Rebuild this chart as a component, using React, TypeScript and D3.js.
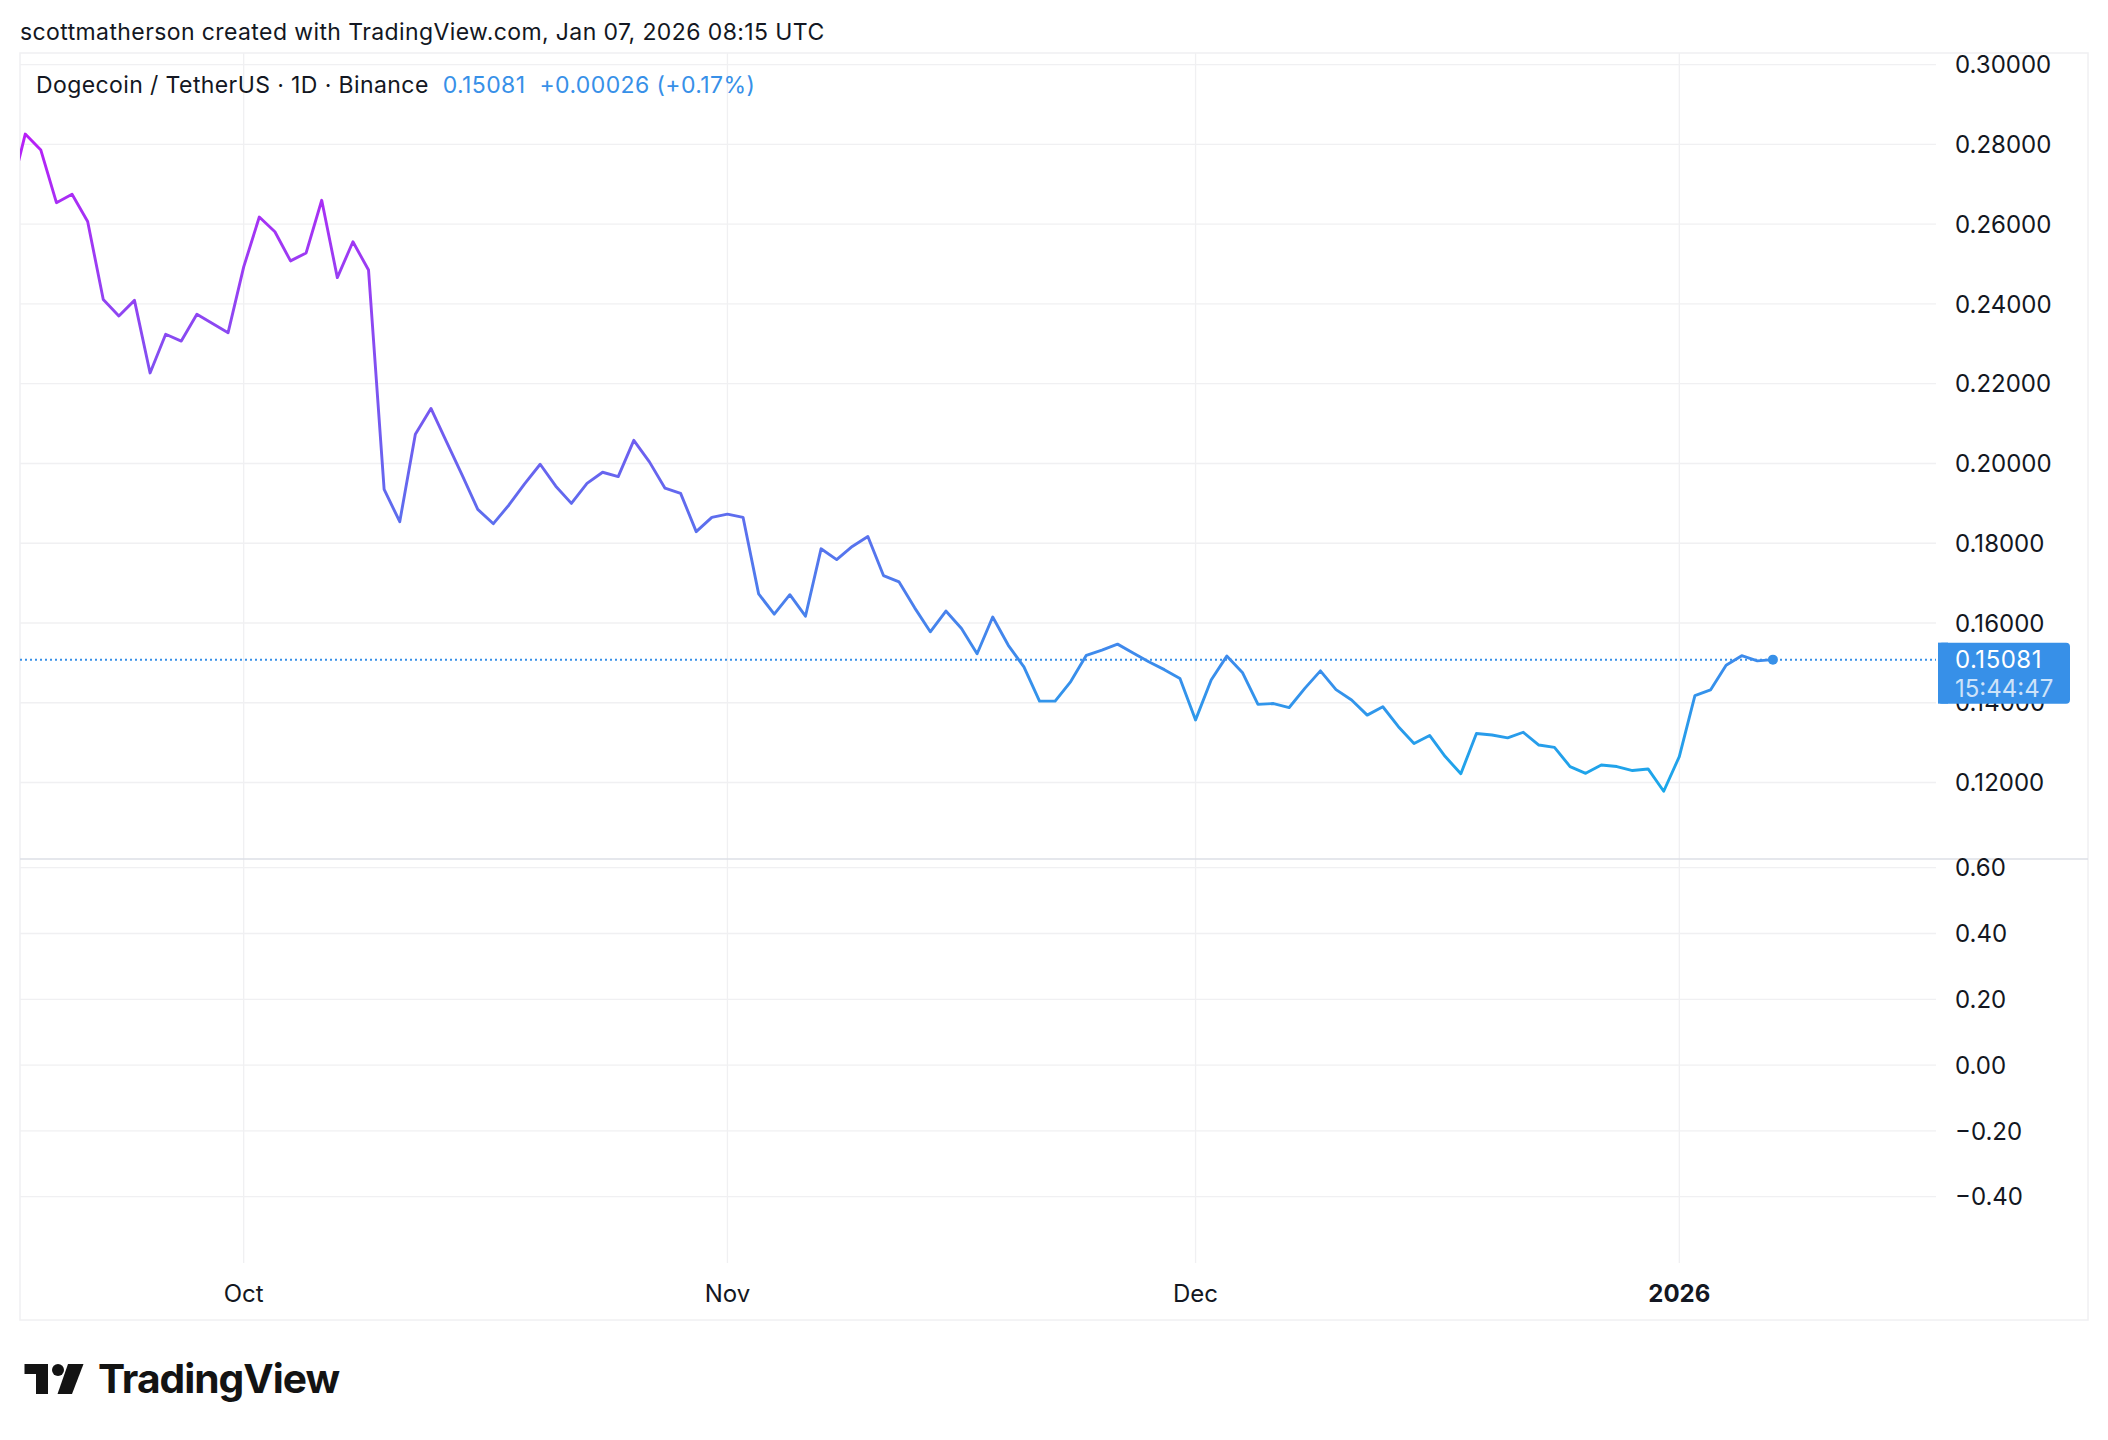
import * as d3 from 'd3'
import { useEffect, useRef } from 'react'

// daily closes, DOGE/USDT 1D (Binance)
const sepCloses = [0.2667, 0.2826, 0.2786, 0.2654, 0.2675, 0.2607, 0.2411, 0.2370, 0.2409, 0.2227,
    0.2324, 0.2307, 0.2374, 0.2351, 0.2328]
const octCloses = [0.2493, 0.2618, 0.2581, 0.2508, 0.2528, 0.2660, 0.2466, 0.2556, 0.2485, 0.1935,
    0.1854, 0.2073, 0.2138, 0.2054, 0.1971, 0.1885, 0.1849, 0.1896, 0.1949, 0.1998,
    0.1943, 0.1900, 0.1950, 0.1978, 0.1967, 0.2058, 0.2004, 0.1938, 0.1925, 0.1829, 0.1865]
const novCloses = [0.1873, 0.1865, 0.1673, 0.1622, 0.1671, 0.1617, 0.1786, 0.1759, 0.1792, 0.1817,
    0.1719, 0.1703, 0.1638, 0.1578, 0.1630, 0.1586, 0.1523, 0.1615, 0.1544, 0.1490,
    0.1404, 0.1404, 0.1453, 0.1519, 0.1532, 0.1547, 0.1525, 0.1503, 0.1483, 0.1461]
const decCloses = [0.1357, 0.1457, 0.1517, 0.1476, 0.1396, 0.1398, 0.1388, 0.1436, 0.1480, 0.1433,
    0.1407, 0.1369, 0.1390, 0.1340, 0.1298, 0.1318, 0.1265, 0.1222, 0.1323, 0.1319,
    0.1312, 0.1326, 0.1294, 0.1288, 0.1240, 0.1223, 0.1244, 0.1240, 0.1230, 0.1234, 0.1178]
const janCloses = [0.1265, 0.1418, 0.1432, 0.1494, 0.1518, 0.1505, 0.15081]

const monthStarts = ['2025-09-16', '2025-10-01', '2025-11-01', '2025-12-01', '2026-01-01']

const priceTicks = [0.12, 0.14, 0.16, 0.18, 0.20, 0.22, 0.24, 0.26, 0.28, 0.30]
const lowerTicks = [0.6, 0.4, 0.2, 0, -0.2, -0.4]
const timeTickDates = ['2025-10-01', '2025-11-01', '2025-12-01', '2026-01-01']
const timeTickLabels = ['Oct', 'Nov', 'Dec', '2026']

const lastPrice = 0.15081
const changeText = '+0.00026 (+0.17%)'
const countdown = '15:44:47'
const symbolText = 'Dogecoin / TetherUS · 1D · Binance'
const headerText = 'scottmatherson created with TradingView.com, Jan 07, 2026 08:15 UTC'

const W = 2108
const H = 1440
const font = "Inter, 'Noto Sans', sans-serif"

export default function App() {
    const svgRef = useRef(null) as any

    useEffect(() => {
        const svg = d3.select(svgRef.current)
        svg.selectAll('*').remove()

        const left = 20, right = 2088, top = 53, bottom = 1320
        const plotRight = 1936
        const sepY = 859
        const lowerBottom = 1263

        const rows: { date: Date, close: number }[] = []
        const months = [sepCloses, octCloses, novCloses, decCloses, janCloses]
        months.forEach((arr, m) => {
            const start = new Date(monthStarts[m] + 'T00:00:00Z')
            arr.forEach((c, i) => rows.push({ date: d3.utcDay.offset(start, i), close: c }))
        })

        const x = d3.scaleUtc()
            .domain([new Date('2025-10-01T00:00:00Z'), new Date('2026-01-01T00:00:00Z')])
            .range([243.7, 1679.3])
        const y = d3.scaleLinear().domain([0.12, 0.30]).range([782.5, 64.7])
        const y2 = d3.scaleLinear().domain([-0.4, 0.6]).range([1196.7, 867.7])

        svg.append('rect').attr('width', W).attr('height', H).attr('fill', '#ffffff')

        const defs = svg.append('defs')
        defs.append('clipPath').attr('id', 'plotClip')
            .append('rect')
            .attr('x', left).attr('y', top)
            .attr('width', plotRight - left).attr('height', sepY - top)

        const grad = defs.append('linearGradient')
            .attr('id', 'lineGrad')
            .attr('gradientUnits', 'userSpaceOnUse')
            .attr('x1', 0).attr('x2', 0)
            .attr('y1', y(0.283)).attr('y2', y(0.118))
        const stops = [
            [0, '#b81ff7'], [0.2, '#9b3cf3'], [0.5, '#6a62ef'], [0.75, '#4584ec'], [1, '#1aa8ea']
        ]
        stops.forEach(s => grad.append('stop').attr('offset', s[0]).attr('stop-color', s[1]))

        // grid
        const grid = svg.append('g')
        grid.selectAll('.vgrid')
            .data(timeTickDates)
            .join('line')
            .attr('x1', d => x(new Date(d + 'T00:00:00Z')))
            .attr('x2', d => x(new Date(d + 'T00:00:00Z')))
            .attr('y1', top).attr('y2', lowerBottom)
            .attr('stroke', '#f0f0f2').attr('stroke-width', 1.3)
        grid.selectAll('.hgrid')
            .data(priceTicks)
            .join('line')
            .attr('x1', left).attr('x2', plotRight)
            .attr('y1', d => y(d)).attr('y2', d => y(d))
            .attr('stroke', '#f0f0f2').attr('stroke-width', 1.3)
        grid.append('g').selectAll('line')
            .data(lowerTicks)
            .join('line')
            .attr('x1', left).attr('x2', plotRight)
            .attr('y1', d => y2(d)).attr('y2', d => y2(d))
            .attr('stroke', '#f0f0f2').attr('stroke-width', 1.3)

        // frame
        svg.append('rect')
            .attr('x', left).attr('y', top)
            .attr('width', right - left).attr('height', bottom - top)
            .attr('fill', 'none').attr('stroke', '#f0f0f2').attr('stroke-width', 1.5)
        svg.append('line')
            .attr('x1', left).attr('x2', right)
            .attr('y1', sepY).attr('y2', sepY)
            .attr('stroke', '#dcdfe6').attr('stroke-width', 1.5)

        // last price dotted line
        svg.append('line')
            .attr('x1', left).attr('x2', plotRight)
            .attr('y1', y(lastPrice)).attr('y2', y(lastPrice))
            .attr('stroke', '#3790e8').attr('stroke-width', 2)
            .attr('stroke-dasharray', '2 3')

        const makeLine = d3.line<{ date: Date, close: number }>()
            .x(d => x(d.date))
            .y(d => y(d.close))

        const plot = svg.append('g').attr('clip-path', 'url(#plotClip)')
        plot.append('path')
            .datum(rows)
            .attr('d', makeLine)
            .attr('fill', 'none')
            .attr('stroke', 'url(#lineGrad)')
            .attr('stroke-width', 2.9)
            .attr('stroke-linejoin', 'round')
            .attr('stroke-linecap', 'round')

        const last = rows[rows.length - 1]
        plot.append('circle')
            .attr('cx', x(last.date)).attr('cy', y(last.close))
            .attr('r', 5).attr('fill', '#3790e8')

        // price axis
        svg.append('g').selectAll('text')
            .data(priceTicks)
            .join('text')
            .attr('x', 1955).attr('y', d => y(d))
            .attr('dy', '0.36em')
            .text(d => d3.format('.5f')(d))
        svg.append('g').selectAll('text')
            .data(lowerTicks)
            .join('text')
            .attr('x', 1955).attr('y', d => y2(d))
            .attr('dy', '0.36em')
            .text(d => d3.format('.2f')(d).replace('-', '\u2212'))

        // last price badge (drawn over the 0.14 label, as in TradingView)
        const by = y(lastPrice) - 17
        svg.append('rect')
            .attr('x', 1938).attr('y', by)
            .attr('width', 132).attr('height', 61)
            .attr('rx', 4).attr('fill', '#3790e8')
        svg.append('rect')
            .attr('x', 1938).attr('y', by)
            .attr('width', 10).attr('height', 61)
            .attr('fill', '#3790e8')
        svg.append('text')
            .attr('x', 1955).attr('y', by + 25)
            .attr('fill', '#ffffff')
            .attr('letter-spacing', 0.5)
            .text(d3.format('.5f')(lastPrice))
        svg.append('text')
            .attr('x', 1955).attr('y', by + 54)
            .attr('fill', '#ffffff').attr('fill-opacity', 0.75)
            .text(countdown)

        // time axis
        svg.append('g').selectAll('text')
            .data(timeTickDates)
            .join('text')
            .attr('x', d => x(new Date(d + 'T00:00:00Z')))
            .attr('y', 1302)
            .attr('text-anchor', 'middle')
            .attr('font-weight', (d, i) => timeTickLabels[i] === '2026' ? 700 : 400)
            .text((d, i) => timeTickLabels[i])

        svg.selectAll('text')
            .attr('font-family', font)
            .attr('font-size', 24)
            .filter(function () { return !d3.select(this).attr('fill') })
            .attr('fill', '#131722')

        // header + legend
        svg.append('text')
            .attr('x', 20).attr('y', 40)
            .attr('font-family', font).attr('font-size', 23)
            .attr('letter-spacing', 0.4)
            .attr('fill', '#131722')
            .text(headerText)

        const legend = svg.append('text')
            .attr('x', 36).attr('y', 93)
            .attr('font-family', font).attr('font-size', 23)
            .attr('letter-spacing', 0.4)
        legend.append('tspan').attr('fill', '#131722').text(symbolText)
        legend.append('tspan').attr('dx', 14).attr('fill', '#3790e8').text(d3.format('.5f')(lastPrice))
        legend.append('tspan').attr('dx', 14).attr('fill', '#3790e8').text(changeText)

        // TradingView logo
        const logo = svg.append('g').attr('fill', '#131313')
        logo.append('path').attr('d', 'M24.5,1364 H48 V1394 H36 V1374 H24.5 Z')
        logo.append('circle').attr('cx', 58).attr('cy', 1370).attr('r', 6)
        logo.append('path').attr('d', 'M68,1364 H83.5 L72,1394 H57.5 Z')
        logo.append('text')
            .attr('x', 98).attr('y', 1393)
            .attr('font-family', font).attr('font-size', 40).attr('font-weight', 700)
            .attr('textLength', 241).attr('lengthAdjust', 'spacingAndGlyphs')
            .attr('letter-spacing', -1)
            .text('TradingView')
    }, [])

    return (
        <div style={{ position: 'absolute', left: 0, top: 0 }}>
            <svg ref={svgRef} width={W} height={H} style={{ display: 'block' }} />
        </div>
    )
}
